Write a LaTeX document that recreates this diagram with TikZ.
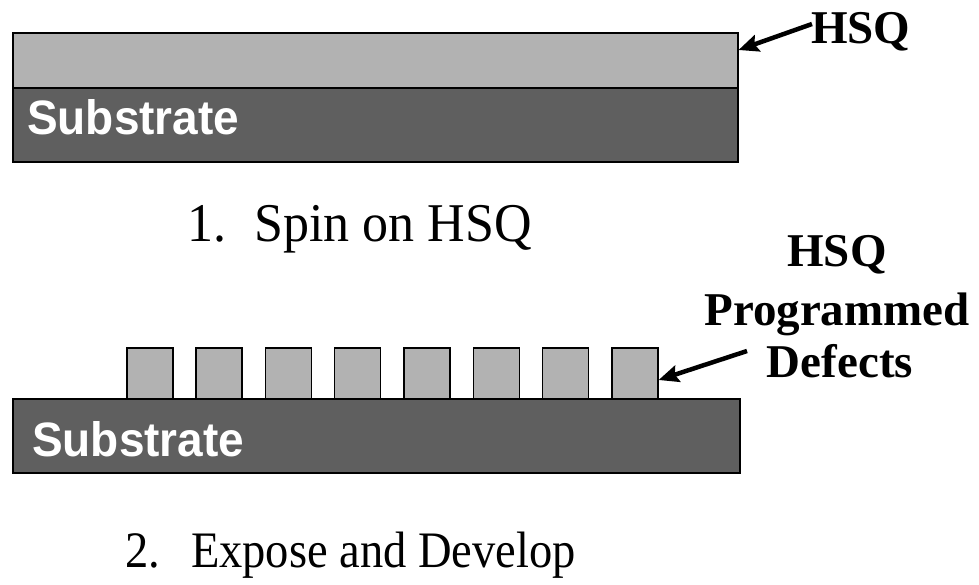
\documentclass[tikz,border=0pt]{standalone}
\usepackage{fontspec}
\setmainfont{Liberation Serif}
\newfontfamily\subfont{Liberation Sans}
\usetikzlibrary{arrows.meta}
\definecolor{hsqgray}{HTML}{B2B2B2}
\definecolor{subgray}{HTML}{5F5F5F}
\begin{document}
\begin{tikzpicture}[x=1pt,y=-1pt,
  layer/.style={draw=black,line width=1.5pt,fill=hsqgray},
  subst/.style={draw=black,line width=1.5pt,fill=subgray},
  sublabel/.style={anchor=base west,inner sep=0pt,text=white,font=\subfont\bfseries\fontsize{46}{50}\selectfont},
  caption/.style={anchor=base west,inner sep=0pt},
  blabel/.style={inner sep=0pt,font=\bfseries\fontsize{47}{55}\selectfont},
  pointer/.style={line width=4.5pt,-{Stealth[length=20pt,width=17pt,inset=3pt]}}]
\useasboundingbox (0,0) rectangle (979,584);
% step 1
\node[layer,minimum width=725pt,minimum height=55pt,anchor=north west,inner sep=0pt] (hsq) at (12,32) {};
\node[subst,minimum width=725pt,minimum height=74pt,anchor=north west,inner sep=0pt] (sub1) at (12,87) {};
\node[sublabel] (sub1t) at (27,134) {\scalebox{1}[1.05]{Substrate}};
\node[blabel,anchor=base west] (hsqt) at (811,43) {HSQ};
\coordinate (a1s) at (812,24);
\draw[pointer] (a1s) -- (hsq.north east |- 0,50);
\node[caption,font=\fontsize{52}{60}\selectfont] (cap1) at (187,241) {\scalebox{1}[1.05]{1.\hspace{28pt}Spin on HSQ}};
% step 2
\node[subst,minimum width=727pt,minimum height=74pt,anchor=north west,inner sep=0pt] (sub2) at (12,398) {};
\foreach \i in {0,...,7}{
  \node[layer,minimum width=46pt,minimum height=51pt,anchor=north west,inner sep=0pt] (d\i) at (126+69.3*\i,347) {};
}
\node[sublabel] (sub2t) at (32,456) {\scalebox{1}[1.05]{Substrate}};
\node[blabel,anchor=base] (l1) at (837,266) {HSQ};
\node[blabel,anchor=base] (l2) at (837,325) {Programmed};
\node[blabel,anchor=base] (l3) at (840,377) {Defects};
\coordinate (a2s) at (747,351);
\draw[pointer] (a2s) -- (d7.east |- 0,380);
\node[caption,font=\fontsize{46.5}{55}\selectfont] (cap2) at (125,567) {\scalebox{1}[1.1]{2.\hspace{31pt}Expose and Develop}};
\end{tikzpicture}
\end{document}
